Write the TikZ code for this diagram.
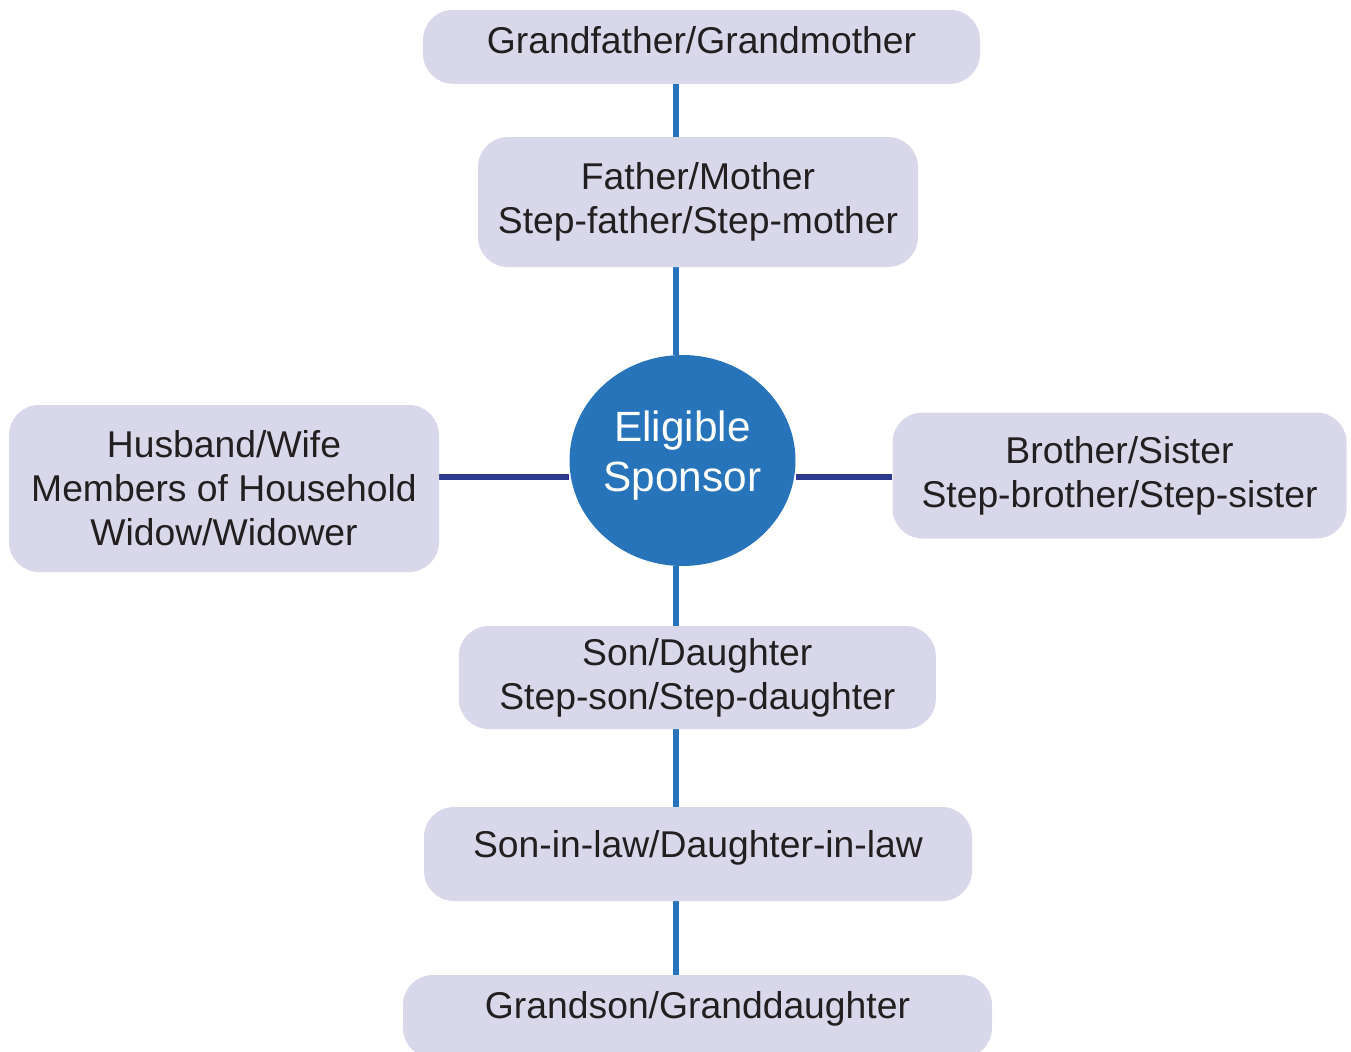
\documentclass[tikz,border=0pt]{standalone}
\usepackage{fontspec}
\setmainfont{Liberation Sans}
\usetikzlibrary{shapes.geometric,backgrounds}
\definecolor{boxfill}{RGB}{217,216,234}
\definecolor{sponsorblue}{RGB}{39,116,187}
\definecolor{vlinecol}{RGB}{39,116,187}
\definecolor{hlinecol}{RGB}{41,58,143}
\definecolor{txtcol}{RGB}{35,31,32}
\tikzset{
  relbox/.style={draw=none, fill=boxfill, rounded corners=15pt, align=center,
    text=txtcol, inner sep=0pt,
    font=\fontsize{18.65pt}{22pt}\selectfont},
  sponsor/.style={ellipse, draw=none, fill=sponsorblue, inner sep=0pt,
    minimum width=113pt, minimum height=105.5pt},
  sptext/.style={align=center, text=white, inner sep=0pt,
    font=\fontsize{21.15pt}{25pt}\selectfont},
  vconn/.style={draw=vlinecol, line width=2.6pt},
  hconn/.style={draw=hlinecol, line width=3pt},
}
\begin{document}
\begin{tikzpicture}[x=0.5pt, y=-0.5pt]
\useasboundingbox (0,0) rectangle (1351,1051);
\clip (0,0) rectangle (1351,1051);
% boxes
\node[relbox, minimum width=278.5pt, minimum height=37pt, text height=14pt, text depth=7.5pt]
  (gf) at (701.5,46.8) {Grandfather/Grandmother};
\node[relbox, minimum width=220pt, minimum height=65pt]
  (fm) at (698,202) {Father/Mother\\Step-father/Step-mother};
\node[sponsor, label={[sptext, yshift=2.4pt]center:Eligible\\Sponsor}]
  (sp) at (682.5,460.5) {};
\node[relbox, minimum width=215pt, minimum height=83.5pt]
  (hw) at (224,488.5) {Husband/Wife\\Members of Household\\Widow/Widower};
\node[relbox, minimum width=227pt, minimum height=63pt]
  (bs) at (1119.5,475.5) {Brother/Sister\\Step-brother/Step-sister};
\node[relbox, minimum width=238.5pt, minimum height=51.5pt]
  (sd) at (697.3,677.5) {Son/Daughter\\Step-son/Step-daughter};
\node[relbox, minimum width=274pt, minimum height=47pt, text height=14pt, text depth=11pt]
  (sil) at (698,854) {Son-in-law/Daughter-in-law};
\node[relbox, minimum width=294.5pt, minimum height=41.5pt, text height=14pt, text depth=12.5pt]
  (gs) at (697.5,1016.5) {Grandson/Granddaughter};
\coordinate (vx) at (676,0);
\coordinate (hy) at (0,476.5);
\begin{scope}[on background layer]
  \draw[vconn] (gf.south -| vx) -- (fm.north -| vx);
  \draw[vconn] (fm.south -| vx) -- (sp.north -| vx);
  \draw[vconn] (sp.south -| vx) -- (sd.north -| vx);
  \draw[vconn] (sd.south -| vx) -- (sil.north -| vx);
  \draw[vconn] (sil.south -| vx) -- (gs.north -| vx);
  \draw[hconn] (hw.east |- hy) -- (sp.west |- hy);
  \draw[hconn] (sp.east |- hy) -- (bs.west |- hy);
\end{scope}
\end{tikzpicture}
\end{document}
